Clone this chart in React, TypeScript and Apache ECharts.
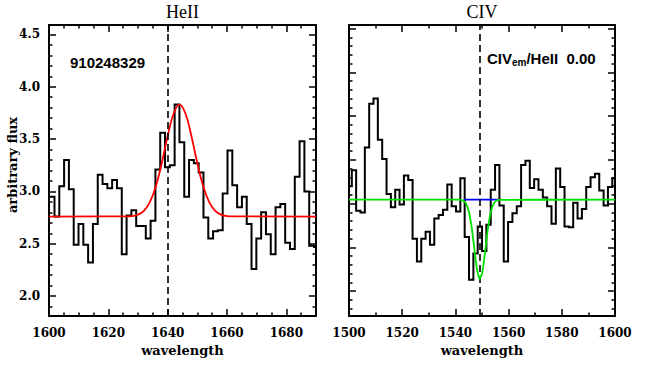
import { useEffect, useRef } from "react";
import * as echarts from "echarts";

// ---------- HeII panel data (bin centres, flux) ----------
const heWave = [
  1601.04, 1602.66, 1604.28, 1605.9, 1607.52, 1609.14, 1610.76, 1612.38, 1614.0, 1615.62,
  1617.24, 1618.86, 1620.48, 1622.1, 1623.72, 1625.34, 1626.96, 1628.58, 1630.2, 1631.82,
  1633.44, 1635.06, 1636.68, 1638.3, 1639.92, 1641.54, 1643.16, 1644.78, 1646.4, 1648.02,
  1649.64, 1651.26, 1652.88, 1654.5, 1656.12, 1657.74, 1659.36, 1660.98, 1662.6, 1664.22,
  1665.84, 1667.46, 1669.08, 1670.7, 1672.32, 1673.94, 1675.56, 1677.18, 1678.8, 1680.42,
  1682.04, 1683.66, 1685.28, 1686.9, 1688.52, 1690.14,
];
const heFlux = [
  2.95, 2.76, 3.05, 3.3, 3.02, 2.49, 2.69, 2.49, 2.32, 2.69,
  3.16, 3.07, 3.03, 3.11, 3.03, 2.4, 2.77, 2.82, 2.67, 2.67,
  2.55, 2.72, 3.21, 3.56, 3.23, 3.25, 3.83, 3.47, 2.95, 3.3,
  3.27, 3.18, 2.75, 2.55, 2.62, 2.63, 2.98, 3.39, 3.06, 2.85,
  2.95, 2.69, 2.26, 2.55, 2.8, 2.59, 2.4, 2.85, 2.88, 2.51,
  2.45, 3.14, 3.48, 3.0, 2.48, 2.47,
];
// red fit
const heFitWave = [1600, 1626, 1628, 1630, 1632, 1634, 1636, 1638, 1640, 1642, 1644, 1646, 1648, 1650, 1652, 1654, 1656, 1658, 1660, 1662, 1690];
const heFitFlux = [2.76, 2.762, 2.765, 2.779, 2.815, 2.897, 3.047, 3.27, 3.53, 3.745, 3.83, 3.745, 3.53, 3.27, 3.047, 2.897, 2.815, 2.779, 2.765, 2.762, 2.76];
const heLine = 1640;

// ---------- CIV panel data ----------
const civWave = [
  1500.24, 1501.87, 1503.5, 1505.14, 1506.77, 1508.4, 1510.03, 1511.66, 1513.3, 1514.93,
  1516.56, 1518.19, 1519.82, 1521.46, 1523.09, 1524.72, 1526.35, 1527.98, 1529.62, 1531.25,
  1532.88, 1534.51, 1536.14, 1537.78, 1539.41, 1541.04, 1542.67, 1544.3, 1545.94, 1547.57,
  1549.2, 1550.83, 1552.46, 1554.1, 1555.73, 1557.36, 1558.99, 1560.62, 1562.26, 1563.89,
  1565.52, 1567.15, 1568.78, 1570.42, 1572.05, 1573.68, 1575.31, 1576.94, 1578.58, 1580.21,
  1581.84, 1583.47, 1585.1, 1586.74, 1588.37, 1590.0, 1591.63, 1593.26, 1594.9, 1596.53,
  1598.16, 1599.79,
];
const civFlux = [
  3.2, 3.38, 2.92, 2.9, 3.64, 4.14, 4.2, 3.73, 3.51, 3.11,
  2.96, 3.16, 2.99, 3.32, 3.27, 2.6, 2.34, 2.6, 2.68, 2.53,
  2.83, 2.87, 2.93, 3.22, 2.97, 2.91, 3.29, 2.62, 2.13, 2.43,
  2.74, 2.46, 2.76, 3.16, 3.44, 2.98, 2.34, 2.79, 2.89, 2.97,
  3.44, 3.49, 3.18, 3.28, 3.16, 3.07, 2.97, 2.77, 3.4, 3.19,
  2.74, 2.73, 3.01, 2.83, 2.94, 3.19, 3.3, 3.34, 3.15, 2.98,
  3.19, 3.29,
];
const civFitWave = [1500, 1541, 1542, 1543, 1544, 1545, 1546, 1547, 1548, 1549, 1549.2, 1550, 1551, 1552, 1553, 1554, 1555, 1556, 1557, 1600];
const civFitFlux = [3.045, 3.045, 3.043, 3.032, 3.0, 2.917, 2.754, 2.515, 2.271, 2.141, 2.137, 2.2, 2.412, 2.665, 2.863, 2.975, 3.023, 3.04, 3.044, 3.045];
const civContWave = [1543.2, 1556.0];
const civContFlux = [3.045, 3.045];
const civLine = 1549.2;

// ---------- axes / ticks ----------
const heXRange = [1600, 1690];
const heYRange = [1.81, 4.59];
const civXRange = [1500, 1600];
const civYRange = [1.717, 5.04];
const heXMajor = [1600, 1620, 1640, 1660, 1680];
const heXMinor = [1605, 1610, 1615, 1625, 1630, 1635, 1645, 1650, 1655, 1665, 1670, 1675, 1685];
const civXMajor = [1500, 1520, 1540, 1560, 1580, 1600];
const civXMinor = [1510, 1530, 1550, 1570, 1590];
const heYMajor = [2.0, 2.5, 3.0, 3.5, 4.0, 4.5];
const heYMinor = [1.9, 2.1, 2.2, 2.3, 2.4, 2.6, 2.7, 2.8, 2.9, 3.1, 3.2, 3.3, 3.4, 3.6, 3.7, 3.8, 3.9, 4.1, 4.2, 4.3, 4.4];
const civYMajor = [2.0, 2.5, 3.0, 3.5, 4.0, 4.5, 5.0];
const civYMinor = [1.8, 1.9, 2.1, 2.2, 2.3, 2.4, 2.6, 2.7, 2.8, 2.9, 3.1, 3.2, 3.3, 3.4, 3.6, 3.7, 3.8, 3.9, 4.1, 4.2, 4.3, 4.4, 4.6, 4.7, 4.8, 4.9];

const LABEL_FONT = "DejaVu Serif";

function steps(wave: number[], flux: number[]) {
  const pts: number[][] = [];
  const n = wave.length;
  for (let i = 0; i < n; i++) {
    const lo = i === 0 ? wave[0] - (wave[1] - wave[0]) / 2 : (wave[i - 1] + wave[i]) / 2;
    const hi = i === n - 1 ? wave[i] + (wave[i] - wave[i - 1]) / 2 : (wave[i] + wave[i + 1]) / 2;
    pts.push([lo, flux[i]], [hi, flux[i]]);
  }
  return pts;
}
const pairs = (a: number[], b: number[]) => a.map((x, i) => [x, b[i]]);

const tickStyle = { color: "#000", width: 1.5 };

function axisSet(
  dim: "x" | "y",
  gridIndex: number,
  range: number[],
  major: number[],
  minor: number[],
  showLabels: boolean
) {
  const sides = dim === "x" ? ["bottom", "top"] : ["left", "right"];
  const out: any[] = [];
  sides.forEach((pos, si) => {
    out.push({
      type: "value",
      gridIndex,
      position: pos,
      min: range[0],
      max: range[1],
      axisLine: { show: true, onZero: false, lineStyle: { color: "#000", width: 2 } },
      axisTick: { show: true, inside: true, length: 7, customValues: major, lineStyle: tickStyle },
      axisLabel: {
        show: showLabels && si === 0,
        customValues: major,
        margin: dim === "x" ? 11 : 9,
        color: "#000",
        fontFamily: LABEL_FONT,
        fontSize: 12,
        fontWeight: "bold",
        formatter: (v: number) => (dim === "y" ? v.toFixed(1) : String(v)),
      },
      splitLine: { show: false },
    });
    out.push({
      type: "value",
      gridIndex,
      position: pos,
      min: range[0],
      max: range[1],
      axisLine: { show: false, onZero: false },
      axisTick: { show: true, inside: true, length: 3.5, customValues: minor, lineStyle: tickStyle },
      axisLabel: { show: false },
      splitLine: { show: false },
    });
  });
  return out;
}

function vline(x: number) {
  return {
    silent: true,
    symbol: ["none", "none"],
    label: { show: false },
    lineStyle: { color: "#000", type: [7, 4], width: 1.6 },
    data: [{ xAxis: x }],
  };
}

export default function App() {
  const ref = useRef<HTMLDivElement>(null);
  useEffect(() => {
    if (!ref.current) return;
    const chart = echarts.init(ref.current, undefined, { renderer: "svg" });
    const text = (t: string, x: number, y: number, font: string, extra: any = {}) => ({
      type: "text",
      x,
      y,
      ...extra,
      style: {
        text: t,
        fill: "#000",
        font,
        align: extra.align || "center",
        verticalAlign: "middle",
        textAlign: extra.align || "center",
        textVerticalAlign: "middle",
      },
    });
    chart.setOption({
      animation: false,
      backgroundColor: "#fff",
      grid: [
        { left: 49, top: 25, width: 267, height: 291 },
        { left: 349, top: 25, width: 266, height: 291 },
      ],
      xAxis: [
        ...axisSet("x", 0, heXRange, heXMajor, heXMinor, true),
        ...axisSet("x", 1, civXRange, civXMajor, civXMinor, true),
      ],
      yAxis: [
        ...axisSet("y", 0, heYRange, heYMajor, heYMinor, true),
        ...axisSet("y", 1, civYRange, civYMajor, civYMinor, false),
      ],
      series: [
        {
          type: "line",
          xAxisIndex: 0,
          yAxisIndex: 0,
          data: steps(heWave, heFlux),
          showSymbol: false,
          symbol: "none",
          lineStyle: { color: "#000", width: 2, join: "miter" },
          markLine: vline(heLine),
          z: 3,
        },
        {
          type: "line",
          xAxisIndex: 0,
          yAxisIndex: 0,
          data: pairs(heFitWave, heFitFlux),
          smooth: 0.4,
          showSymbol: false,
          symbol: "none",
          lineStyle: { color: "#ff0000", width: 1.8 },
          z: 4,
        },
        {
          type: "line",
          xAxisIndex: 4,
          yAxisIndex: 4,
          data: steps(civWave, civFlux),
          showSymbol: false,
          symbol: "none",
          lineStyle: { color: "#000", width: 2, join: "miter" },
          markLine: vline(civLine),
          z: 3,
        },
        {
          type: "line",
          xAxisIndex: 4,
          yAxisIndex: 4,
          data: pairs(civContWave, civContFlux),
          showSymbol: false,
          symbol: "none",
          lineStyle: { color: "#0000ff", width: 1.8 },
          z: 4,
        },
        {
          type: "line",
          xAxisIndex: 4,
          yAxisIndex: 4,
          data: pairs(civFitWave, civFitFlux),
          smooth: 0.4,
          showSymbol: false,
          symbol: "none",
          lineStyle: { color: "#00e000", width: 1.8 },
          z: 5,
        },
      ],
      graphic: [
        text("HeII", 182.5, 12, '18px "Liberation Serif"'),
        text("CIV", 482, 12, '18px "Liberation Serif"'),
        text("910248329", 70, 62, 'bold 15px "Liberation Sans"', { align: "left" }),
        {
          type: "text",
          x: 487,
          y: 58,
          style: {
            text: "{a|CIV}{b|em}{a|/HeII  0.00}",
            fill: "#000",
            align: "left",
            verticalAlign: "middle",
            textAlign: "left",
            textVerticalAlign: "middle",
            rich: {
              a: { fontFamily: "Liberation Sans", fontWeight: "bold", fontSize: 15, lineHeight: 18, fill: "#000" },
              b: { fontFamily: "Liberation Sans", fontWeight: "bold", fontSize: 10, lineHeight: 18, verticalAlign: "bottom", fill: "#000" },
            },
          },
        },
        text("wavelength", 182.5, 350, 'bold 13px "DejaVu Serif"'),
        text("wavelength", 482, 350, 'bold 13px "DejaVu Serif"'),
        text("arbitrary flux", 12, 165, 'bold 13px "DejaVu Serif"', { rotation: Math.PI / 2 }),
      ],
    });
    return () => chart.dispose();
  }, []);
  return (
    <div
      ref={ref}
      style={{ position: "fixed", left: 0, top: 0, width: 664, height: 369, background: "#fff" }}
    />
  );
}
